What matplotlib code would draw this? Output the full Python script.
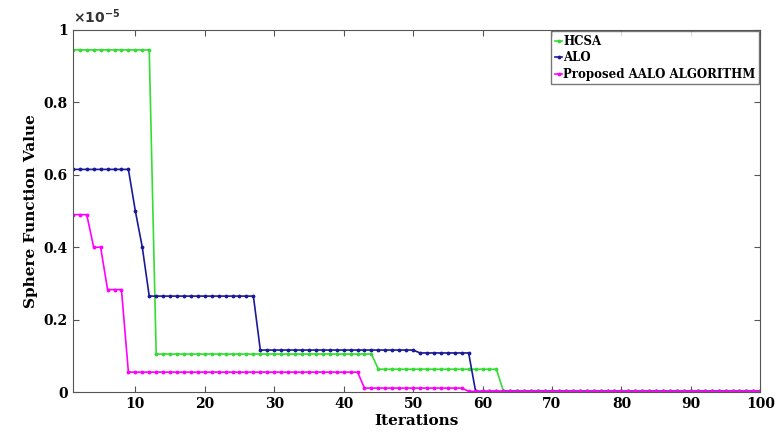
import numpy as np
import matplotlib.pyplot as plt
from matplotlib.ticker import FuncFormatter

# convergence curves, values in units of 1e-5, stored as plateau value + run length
iters = np.arange(1, 101)

hcsa_vals = [0.945, 0.105, 0.063, 0.003]
hcsa_runs = [12, 32, 18, 38]

alo_vals = [0.615, 0.50, 0.40, 0.265, 0.116, 0.108, 0.002]
alo_runs = [9, 1, 1, 16, 23, 8, 42]

aalo_vals = [0.49, 0.40, 0.283, 0.055, 0.011, 0.002]
aalo_runs = [3, 2, 3, 34, 15, 43]

yticks = [0, 0.2, 0.4, 0.6, 0.8, 1]

hcsa = np.repeat(hcsa_vals, hcsa_runs)
alo = np.repeat(alo_vals, alo_runs)
aalo = np.repeat(aalo_vals, aalo_runs)

plt.rcParams['font.family'] = ['DejaVu Serif']
plt.rcParams['font.weight'] = 'bold'
plt.rcParams['mathtext.default'] = 'bf'

fig = plt.figure(figsize=(7.75, 4.41), dpi=100)
ax = fig.add_axes([0.094, 0.111, 0.887, 0.821])

ax.plot(iters, hcsa, color='#33dd33', marker='.', markersize=3.5, lw=1.2, label='HCSA')
ax.plot(iters, alo, color='#1a1a99', marker='.', markersize=3.5, lw=1.2, label='ALO')
ax.plot(iters, aalo, color='#ff00ff', marker='.', markersize=3.5, lw=1.2, label='Proposed AALO ALGORITHM')

ax.set_xlim(1, 100)
ax.set_ylim(0, 1)
ax.set_xticks(np.arange(10, 101, 10))
ax.set_yticks(yticks)
ax.yaxis.set_major_formatter(FuncFormatter(lambda v, p: ('%g' % round(v, 2))))
ax.tick_params(direction='in', labelsize=10, length=4, color='#555555', top=True, right=True)
for lab in ax.get_xticklabels() + ax.get_yticklabels():
    lab.set_fontweight('bold')
for s in ax.spines.values():
    s.set_color('#555555')

ax.text(0.0, 1.01, r'$\times\mathbf{10^{-5}}$', transform=ax.transAxes, fontsize=10,
        ha='left', va='bottom', color='#333333')

ax.set_xlabel('Iterations', fontsize=11, fontweight='bold', labelpad=2)
ax.set_ylabel('Sphere Function Value', fontsize=11, fontweight='bold')

leg = ax.legend(loc='upper right', handlelength=0.6, handletextpad=0.1,
                borderaxespad=0.1, borderpad=0.3, labelspacing=0.3, fancybox=False,
                edgecolor='#555555', prop={'weight': 'bold', 'size': 8.5})

fig.savefig('out.png', dpi=100)
